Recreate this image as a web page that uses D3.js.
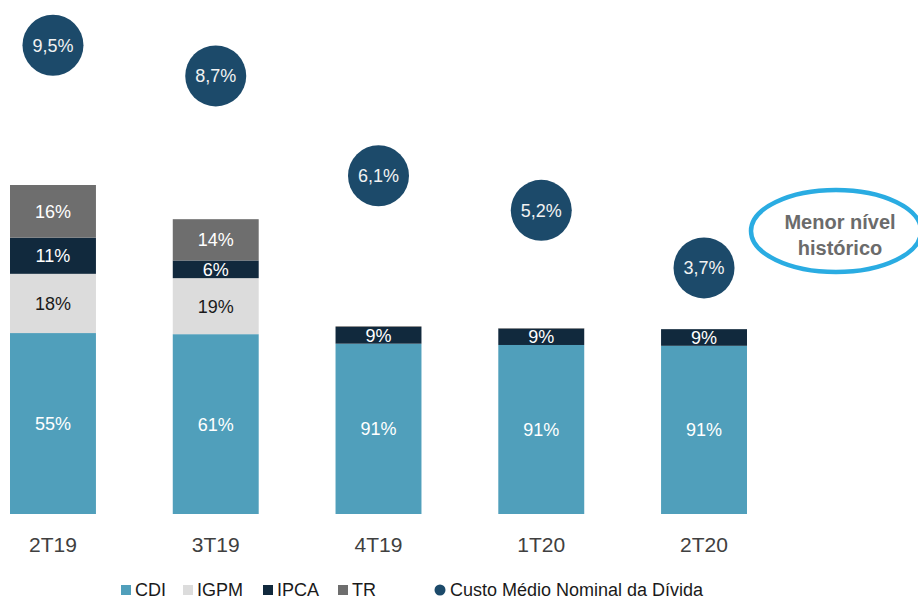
<!DOCTYPE html>
<html>
<head>
<meta charset="utf-8">
<script src="https://cdn.jsdelivr.net/npm/d3@7"></script>
<style>
  body { margin: 0; background: #fff; }
  svg { display: block; font-family: 'Liberation Sans', Arial, sans-serif; }
</style>
</head>
<body>
<div id="chart"></div>
<script>
const quarters = ['2T19', '3T19', '4T19', '1T20', '2T20']

// debt volume, index (2T20 = 100)
const debtIndex = [178, 159.5, 101.6, 100.6, 100]

// share of each indexer, %
const cdi = [55, 61, 90.7, 90.9, 91]
const igpm = [18, 19, 0, 0, 0]
const ipca = [11, 6, 8.9, 8.8, 9]
const tr = [16, 14, 0.4, 0.3, 0]

// custo médio nominal da dívida, %
const custoMedio = [9.5, 8.7, 6.1, 5.2, 3.7]

const series = [
  { key: 'CDI', values: cdi, color: '#509fbb', text: '#fff' },
  { key: 'IGPM', values: igpm, color: '#dcdcdc', text: '#1a1a1a' },
  { key: 'IPCA', values: ipca, color: '#11293d', text: '#fff' },
  { key: 'TR', values: tr, color: '#6e6e6e', text: '#fff' }
]

const width = 918
const height = 601

const svg = d3
  .select('#chart')
  .append('svg')
  .attr('width', width)
  .attr('height', height)

const xPositionScale = d3
  .scaleBand()
  .domain(quarters)
  .range([10, 747])
  .paddingInner(0.472)
  .paddingOuter(0)

const yPositionScale = d3.scaleLinear().domain([0, 178]).range([514, 185])

const costScale = d3.scaleLinear().domain([0, 10]).range([410, 26])

// build stacked table
const table = quarters.map((q, i) => {
  const row = { quarter: q }
  series.forEach(s => {
    row[s.key] = (debtIndex[i] * s.values[i]) / 100
  })
  return row
})

const stacked = d3.stack().keys(series.map(s => s.key))(table)

const layers = svg
  .selectAll('.layer')
  .data(stacked)
  .enter()
  .append('g')
  .attr('class', 'layer')
  .attr('fill', (d, i) => series[i].color)

layers
  .selectAll('rect')
  .data(d => d)
  .enter()
  .append('rect')
  .attr('x', d => xPositionScale(d.data.quarter))
  .attr('width', xPositionScale.bandwidth())
  .attr('y', d => yPositionScale(d[1]))
  .attr('height', d => yPositionScale(d[0]) - yPositionScale(d[1]))

// percentage labels inside the bars
stacked.forEach((layer, li) => {
  const s = series[li]
  svg
    .append('g')
    .selectAll('text')
    .data(layer.filter((d, i) => s.values[i] >= 3))
    .enter()
    .append('text')
    .attr('x', d => xPositionScale(d.data.quarter) + xPositionScale.bandwidth() / 2)
    .attr('y', d => (yPositionScale(d[0]) + yPositionScale(d[1])) / 2)
    .attr('dy', '0.36em')
    .attr('text-anchor', 'middle')
    .attr('font-size', 18)
    .attr('fill', s.text)
    .text(d => Math.round(s.values[quarters.indexOf(d.data.quarter)]) + '%')
})

// cost bubbles
const bubbles = svg
  .selectAll('.bubble')
  .data(custoMedio)
  .enter()
  .append('g')
  .attr('class', 'bubble')
  .attr('transform', (d, i) => {
    const cx = xPositionScale(quarters[i]) + xPositionScale.bandwidth() / 2
    return 'translate(' + cx + ',' + costScale(d) + ')'
  })

bubbles.append('circle').attr('r', 30.5).attr('fill', '#1c4a6a')

bubbles
  .append('text')
  .attr('text-anchor', 'middle')
  .attr('dy', '0.36em')
  .attr('font-size', 18)
  .attr('fill', '#f2f2f2')
  .text(d => d.toFixed(1).replace('.', ',') + '%')

// x axis labels
const xAxis = d3.axisBottom(xPositionScale).tickSize(0).tickPadding(0)
svg
  .append('g')
  .attr('class', 'axis x-axis')
  .attr('transform', 'translate(0,537)')
  .call(xAxis)
  .call(g => g.select('.domain').remove())
  .selectAll('text')
  .attr('font-size', 21)
  .attr('font-family', "'Liberation Sans', Arial, sans-serif")
  .attr('fill', '#404040')

// annotation
svg
  .append('ellipse')
  .attr('cx', 836)
  .attr('cy', 231)
  .attr('rx', 85)
  .attr('ry', 41)
  .attr('fill', 'none')
  .attr('stroke', '#2aace2')
  .attr('stroke-width', 4.5)

svg
  .append('text')
  .attr('x', 840)
  .attr('y', 222)
  .attr('dy', '0.36em')
  .attr('text-anchor', 'middle')
  .attr('font-size', 20)
  .attr('font-weight', 'bold')
  .attr('fill', '#6b6b6b')
  .text('Menor nível')

svg
  .append('text')
  .attr('x', 840)
  .attr('y', 248)
  .attr('dy', '0.36em')
  .attr('text-anchor', 'middle')
  .attr('font-size', 20)
  .attr('font-weight', 'bold')
  .attr('fill', '#6b6b6b')
  .text('histórico')

// legend
const legendX = [121, 183, 263, 338]
const legend = svg
  .selectAll('.legend-item')
  .data(series)
  .enter()
  .append('g')
  .attr('class', 'legend-item')
  .attr('transform', (d, i) => 'translate(' + legendX[i] + ',590)')

legend
  .append('rect')
  .attr('x', 0)
  .attr('y', -5)
  .attr('width', 10)
  .attr('height', 10)
  .attr('fill', d => d.color)

legend
  .append('text')
  .attr('x', 14)
  .attr('dy', '0.36em')
  .attr('font-size', 18)
  .attr('fill', '#1a1a1a')
  .text(d => d.key)

svg
  .append('circle')
  .attr('cx', 440)
  .attr('cy', 590)
  .attr('r', 5.5)
  .attr('fill', '#1c4a6a')

svg
  .append('text')
  .attr('x', 450)
  .attr('y', 590)
  .attr('dy', '0.36em')
  .attr('font-size', 18)
  .attr('fill', '#1a1a1a')
  .text('Custo Médio Nominal da Dívida')
</script>
</body>
</html>
